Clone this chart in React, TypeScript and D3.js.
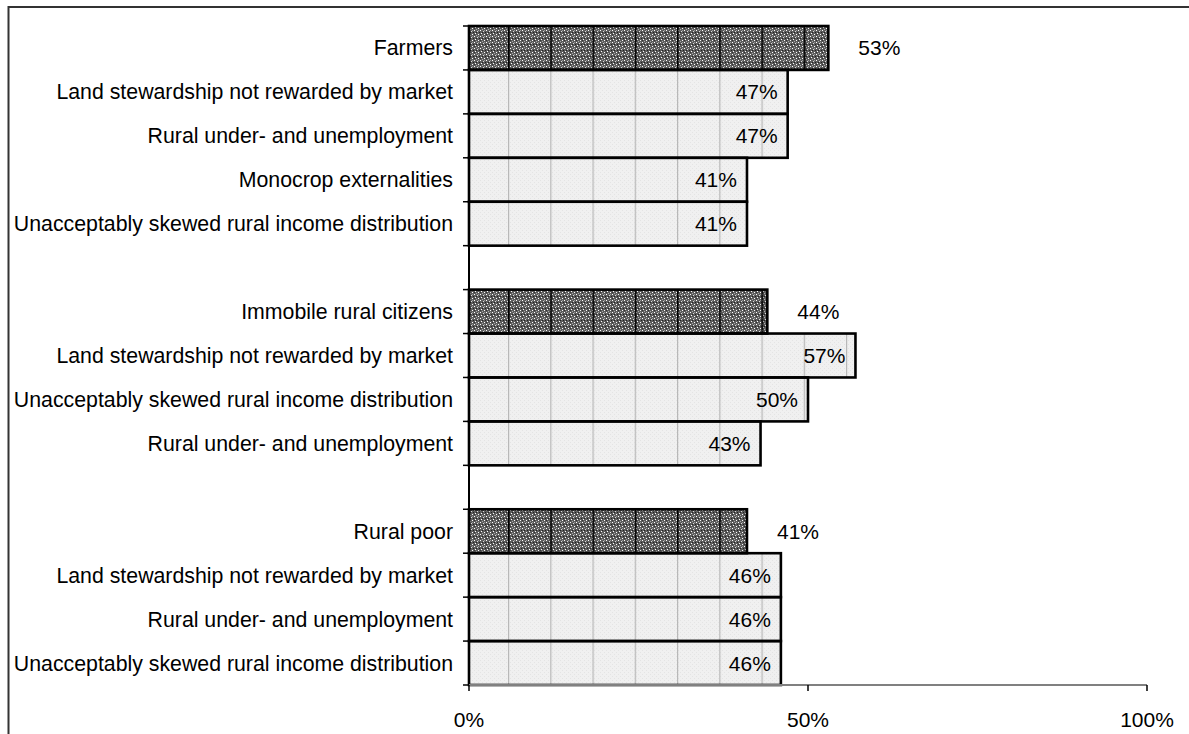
import React from "react";
import * as d3 from "d3";

const labels = [
  "Farmers",
  "Land stewardship not rewarded by market",
  "Rural under- and unemployment",
  "Monocrop externalities",
  "Unacceptably skewed rural income distribution",
  "Immobile rural citizens",
  "Land stewardship not rewarded by market",
  "Unacceptably skewed rural income distribution",
  "Rural under- and unemployment",
  "Rural poor",
  "Land stewardship not rewarded by market",
  "Rural under- and unemployment",
  "Unacceptably skewed rural income distribution",
];
const values = [53, 47, 47, 41, 41, 44, 57, 50, 43, 41, 46, 46, 46];
const isHeader = [true, false, false, false, false, true, false, false, false, true, false, false, false];
const groupOf = [0, 0, 0, 0, 0, 1, 1, 1, 1, 2, 2, 2, 2];
const xTicks = [0, 50, 100];

const W = 1189;
const H = 734;
const left = 469;
const right = 1147;
const top = 26;
const bottom = 685;
const FONT = "Arial, 'Liberation Sans', sans-serif";

export default function App() {
  // slots: rows plus a gap slot between groups
  const slotKeys: string[] = [];
  const rowKey: string[] = [];
  labels.forEach((_, i) => {
    if (i > 0 && groupOf[i] !== groupOf[i - 1]) slotKeys.push("gap" + groupOf[i]);
    const k = "r" + i;
    slotKeys.push(k);
    rowKey.push(k);
  });
  const y = d3.scaleBand<string>().domain(slotKeys).range([top, bottom]).padding(0);
  const x = d3.scaleLinear().domain([0, 100]).range([left, right]);
  const bw = y.bandwidth();
  const boundaries = d3.range(slotKeys.length + 1).map((i) => top + i * bw);

  return (
    <svg width={W} height={H} style={{ position: "absolute", left: 0, top: 0, display: "block" }}>
      <defs>
        <pattern id="dark" patternUnits="userSpaceOnUse" width={6} height={6}>
          <rect width={6} height={6} fill="#5c5c5c" />
          <rect x={0} y={0} width={1} height={1} fill="#fff" />
          <rect x={3} y={1} width={1} height={1} fill="#ddd" />
          <rect x={1} y={3} width={1} height={1} fill="#fff" />
          <rect x={4} y={4} width={1} height={1} fill="#fff" />
          <rect x={2} y={5} width={1} height={1} fill="#aaa" />
          <rect x={5} y={2} width={1} height={1} fill="#222" />
          <rect x={2} y={2} width={1} height={1} fill="#222" />
          <rect x={0} y={4} width={1} height={1} fill="#333" />
          <rect x={4} y={0} width={1} height={1} fill="#999" />
        </pattern>
        <pattern id="light" patternUnits="userSpaceOnUse" width={4} height={4}>
          <rect width={4} height={4} fill="#f0f0f0" />
          <rect x={0} y={0} width={1} height={1} fill="#e4e4e4" />
          <rect x={2} y={2} width={1} height={1} fill="#e4e4e4" />
        </pattern>
        <pattern id="gridDark" patternUnits="userSpaceOnUse" x={508} width={42.25} height={10}>
          <rect x={0} y={0} width={1.6} height={10} fill="#000" />
        </pattern>
        <pattern id="gridLight" patternUnits="userSpaceOnUse" x={508} width={42.25} height={10}>
          <rect x={0} y={0} width={1.2} height={10} fill="#b8b8b8" />
        </pattern>
      </defs>
      <rect x={8.5} y={7} width={1300} height={900} fill="#fff" stroke="#333" strokeWidth={2} />

      {/* bars */}
      {labels.map((lab, i) => {
        const y0 = y(rowKey[i])!;
        const x1 = x(values[i]);
        return (
          <g key={"b" + i}>
            <rect x={x(0)} y={y0} width={x1 - x(0)} height={bw} fill={isHeader[i] ? "url(#dark)" : "url(#light)"} />
            <rect x={x(0)} y={y0} width={x1 - x(0)} height={bw} fill={isHeader[i] ? "url(#gridDark)" : "url(#gridLight)"} />
          </g>
        );
      })}
      {labels.map((lab, i) => {
        const y0 = y(rowKey[i])!;
        const x1 = x(values[i]);
        return (
          <rect key={"s" + i} x={x(0)} y={y0} width={x1 - x(0)} height={bw} fill="none" stroke="#000" strokeWidth={2.6} />
        );
      })}

      {/* value labels */}
      {labels.map((lab, i) => {
        const cy = y(rowKey[i])! + bw / 2;
        const x1 = x(values[i]);
        return isHeader[i] ? (
          <text key={"v" + i} x={x1 + 30} y={cy + 7.5} fontFamily={FONT} fontSize={21} fill="#000">
            {values[i] + "%"}
          </text>
        ) : (
          <text key={"v" + i} x={x1 - 10} y={cy + 7.5} fontFamily={FONT} fontSize={21} textAnchor="end" fill="#000">
            {values[i] + "%"}
          </text>
        );
      })}

      {/* category labels */}
      {labels.map((lab, i) => (
        <text key={"l" + i} x={453} y={y(rowKey[i])! + bw / 2 + 7.5} fontFamily={FONT} fontSize={21.3} textAnchor="end" fill="#000">
          {lab}
        </text>
      ))}

      {/* left axis */}
      <line x1={left} x2={left} y1={top} y2={bottom} stroke="#000" strokeWidth={2} />
      {boundaries.map((b, i) => (
        <line key={"t" + i} x1={left - 6} x2={left} y1={b} y2={b} stroke="#000" strokeWidth={1.5} />
      ))}

      {/* bottom axis */}
      <line x1={left} x2={right} y1={bottom} y2={bottom} stroke="#808080" strokeWidth={2} />
      {xTicks.map((t) => (
        <g key={"x" + t}>
          <line x1={x(t)} x2={x(t)} y1={bottom} y2={bottom + 6} stroke="#000" strokeWidth={1.5} />
          <text x={x(t)} y={727} fontFamily={FONT} fontSize={21} textAnchor="middle" fill="#000">
            {t + "%"}
          </text>
        </g>
      ))}
    </svg>
  );
}
